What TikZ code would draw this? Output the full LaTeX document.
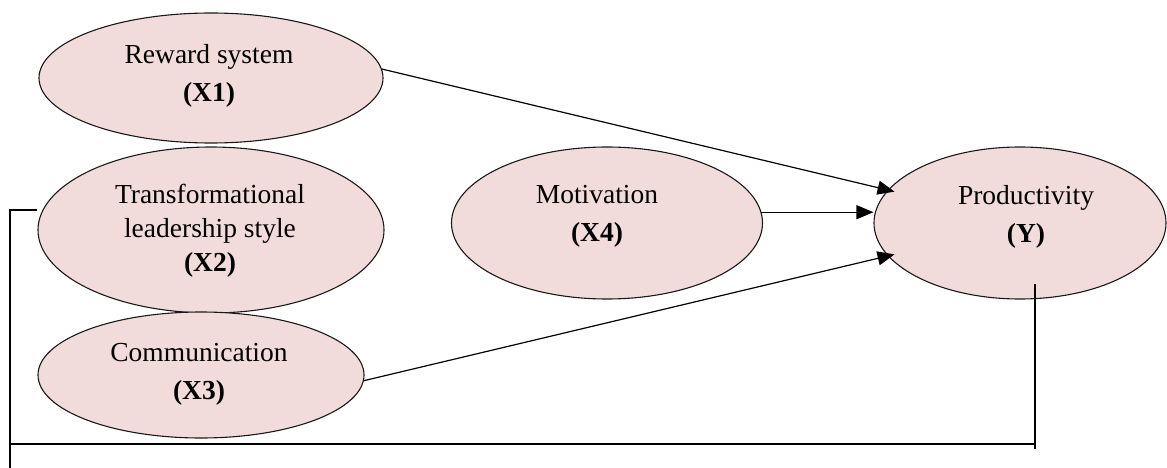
\documentclass[tikz,border=0pt]{standalone}
\usepackage{fontspec}
\setmainfont{Liberation Serif}
\usetikzlibrary{shapes.geometric,arrows.meta}
\definecolor{pinkfill}{RGB}{242,220,219}
\begin{document}
\begin{tikzpicture}[x=1pt,y=-1pt,
  var/.style={ellipse,draw=black!90,line width=1.1pt,fill=pinkfill,inner sep=0pt},
  lbl/.style={align=center,inner sep=0pt,font=\fontsize{27.5}{38}\selectfont},
  lblb/.style={align=center,inner sep=0pt,font=\fontsize{27.5}{34}\selectfont},
  conn/.style={line width=1.2pt,-{Triangle[length=17pt,width=14pt]}},
  fb/.style={line width=1.4pt}]
\useasboundingbox (0,0) rectangle (1167,468);
% ellipses
\node[var,minimum width=344pt,minimum height=130pt] (rew) at (211,78) {};
\node[var,minimum width=346pt,minimum height=166pt] (trans) at (211,230) {};
\node[var,minimum width=326pt,minimum height=126pt] (comm) at (201,375) {};
\node[var,minimum width=311pt,minimum height=152pt] (mot) at (607,223) {};
\node[var,minimum width=292pt,minimum height=152pt] (prod) at (1020,223) {};
% texts
\node[lbl] (rewt) at (209,76) {Reward system\\\textbf{(X1)}};
\node[lblb] (transt) at (210,231) {Transformational\\leadership style\\\textbf{(X2)}};
\node[lbl] (commt) at (199,374) {Communication\\\textbf{(X3)}};
\node[lbl] (mott) at (597,216) {Motivation\\\textbf{(X4)}};
\node[lbl] (prodt) at (1026,217) {Productivity\\\textbf{(Y)}};
% connectors
\draw[conn,shorten >=-7pt] (rew.3) -- (prod.166);
\draw[conn] (mot.4) -- (mot.4 -| prod.west);
\draw[conn,shorten >=-7pt] (comm.-2) -- (prod.194);
% feedback line
\coordinate (fbtop) at (10,210);
\coordinate (fbbot) at (10,468);
\coordinate (bl) at (10,444);
\coordinate (br) at (1035,444);
\coordinate (pr1) at (1035,284);
\coordinate (pr2) at (1035,449);
\draw[fb] (trans.west |- fbtop) -- (fbtop) -- (fbbot);
\draw[fb] (bl) -- (br);
\draw[fb] (pr1) -- (pr2);
\end{tikzpicture}
\end{document}
